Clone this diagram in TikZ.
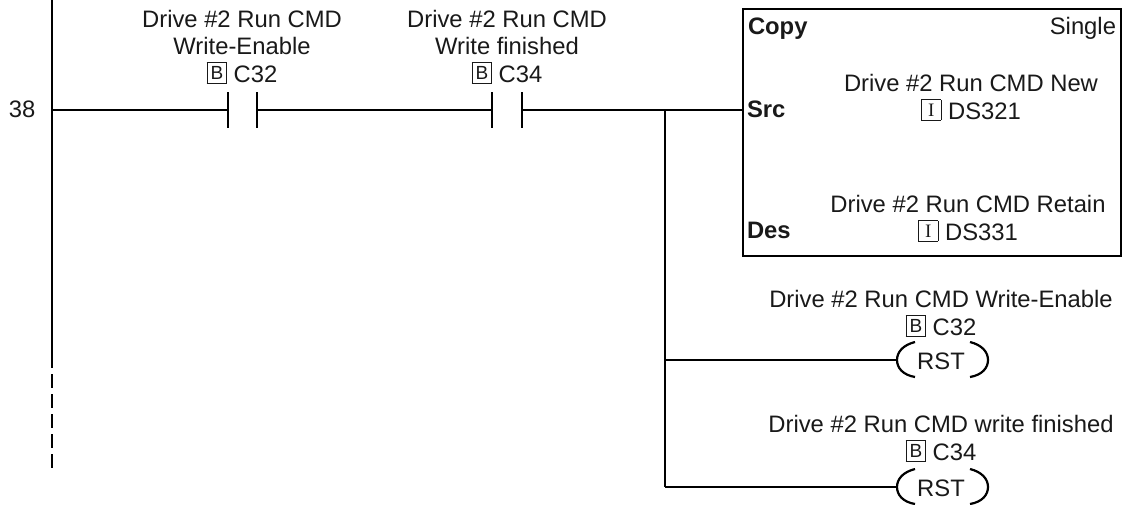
\documentclass[tikz,border=0pt]{standalone}
\usepackage{fontspec}
\setmainfont{Liberation Sans}
\newfontfamily\tagserif{Liberation Serif}
\newcommand{\tagmark}[2]{{\setlength{\fboxsep}{0pt}\setlength{\fboxrule}{0.9pt}\raisebox{3pt}{\fbox{\parbox[c][19.5pt][c]{18.5pt}{\centering\fontsize{19}{19}#1\selectfont #2}}}}}
\newcommand{\tagB}{\tagmark{}{B}}
\newcommand{\tagI}{\tagmark{\tagserif}{I}}
\tikzset{
  wire/.style={line width=2.2pt,black,line cap=butt},
  lbl/.style={inner sep=0pt,outer sep=0pt,align=center,anchor=base,text=black!90,font=\fontsize{23.8}{27.4}\selectfont},
  lbll/.style={inner sep=0pt,outer sep=0pt,anchor=base west,text=black!90,font=\fontsize{23.8}{27.4}\selectfont},
  lblr/.style={inner sep=0pt,outer sep=0pt,anchor=base east,text=black!90,font=\fontsize{23.8}{27.4}\selectfont},
  lblc/.style={inner sep=0pt,outer sep=0pt,anchor=base,text=black!90,font=\fontsize{23.8}{27.4}\selectfont},
}
\begin{document}
\begin{tikzpicture}[x=1pt,y=-1pt]
\useasboundingbox (0,0) rectangle (1126,504);
% power rail
\coordinate (railtop) at (52,0);
\coordinate (railend) at (52,368);
\coordinate (railrung) at (52,110);
\coordinate (dashstart) at (52,368);
\coordinate (dashend) at (52,468);
\draw[wire] (railtop) -- (railend);
\draw[wire,dash pattern=on 14pt off 6pt,dash phase=-6pt] (dashstart) -- (dashend);
% rung number
\node[lbll] (rung) at (9,117) {38};
% contact 1
\coordinate (c1la) at (228,92); \coordinate (c1lb) at (228,128);
\coordinate (c1ra) at (257,92); \coordinate (c1rb) at (257,128);
\coordinate (c1l) at (228,110); \coordinate (c1r) at (257,110);
\draw[wire] (c1la) -- (c1lb);
\draw[wire] (c1ra) -- (c1rb);
% contact 2
\coordinate (c2la) at (492,92); \coordinate (c2lb) at (492,128);
\coordinate (c2ra) at (522,92); \coordinate (c2rb) at (522,128);
\coordinate (c2l) at (492,110); \coordinate (c2r) at (522,110);
\draw[wire] (c2la) -- (c2lb);
\draw[wire] (c2ra) -- (c2rb);
% copy box
\node[draw,wire,minimum width=378pt,minimum height=247pt,inner sep=0pt,anchor=north west] (copybox) at (742,8) {};
\coordinate (src) at (742,110);
\coordinate (junction) at (665,110);
\coordinate (junctionA) at (665,360);
\coordinate (junctionB) at (665,487);
% coils
\coordinate (rst1l) at (897,360);
\coordinate (rst2l) at (897,487);
\draw[wire] (railrung) -- (c1l);
\draw[wire] (c1r) -- (c2l);
\draw[wire] (c2r) -- (src);
\draw[wire] (junction) -- (junctionA) -- (junctionB);
\draw[wire] (junctionA) -- (rst1l);
\draw[wire] (junctionB) -- (rst2l);
% parentheses
\draw[wire] (915,342) .. controls (903,345) and (897,352) .. (rst1l) .. controls (897,368) and (903,375) .. (915,377);
\draw[wire] (970,342) .. controls (982,345) and (988,352) .. (988,360) .. controls (988,368) and (982,375) .. (970,377);
\draw[wire] (915,469) .. controls (903,472) and (897,479) .. (rst2l) .. controls (897,495) and (903,502) .. (915,504);
\draw[wire] (970,469) .. controls (982,472) and (988,479) .. (988,487) .. controls (988,495) and (982,502) .. (970,504);
\node[lblc] (rsta) at (941,369) {RST};
\node[lblc] (rstb) at (941,496) {RST};
% contact labels
\node[lbl] (c1t) at (242,82) {Drive \#2 Run CMD\\Write-Enable\\\tagB{} C32};
\node[lbl] (c2t) at (507,82) {Drive \#2 Run CMD\\Write finished\\\tagB{} C34};
% box labels
\node[lbll,font=\fontsize{23.8}{27.4}\selectfont\bfseries] (copy) at (748,34) {Copy};
\node[lblr] (single) at (1116,34) {Single};
\node[lbll,font=\fontsize{23.8}{27.4}\selectfont\bfseries] (srct) at (747,117) {Src};
\node[lbll,font=\fontsize{23.8}{27.4}\selectfont\bfseries] (dest) at (747,238) {Des};
\node[lbl] (srcv) at (971,119) {Drive \#2 Run CMD New\\\tagI{} DS321};
\node[lbl] (desv) at (968,240) {Drive \#2 Run CMD Retain\\\tagI{} DS331};
% coil labels
\node[lbl] (r1t) at (941,335) {Drive \#2 Run CMD Write-Enable\\\tagB{} C32};
\node[lbl] (r2t) at (941,460) {Drive \#2 Run CMD write finished\\\tagB{} C34};
\end{tikzpicture}
\end{document}
